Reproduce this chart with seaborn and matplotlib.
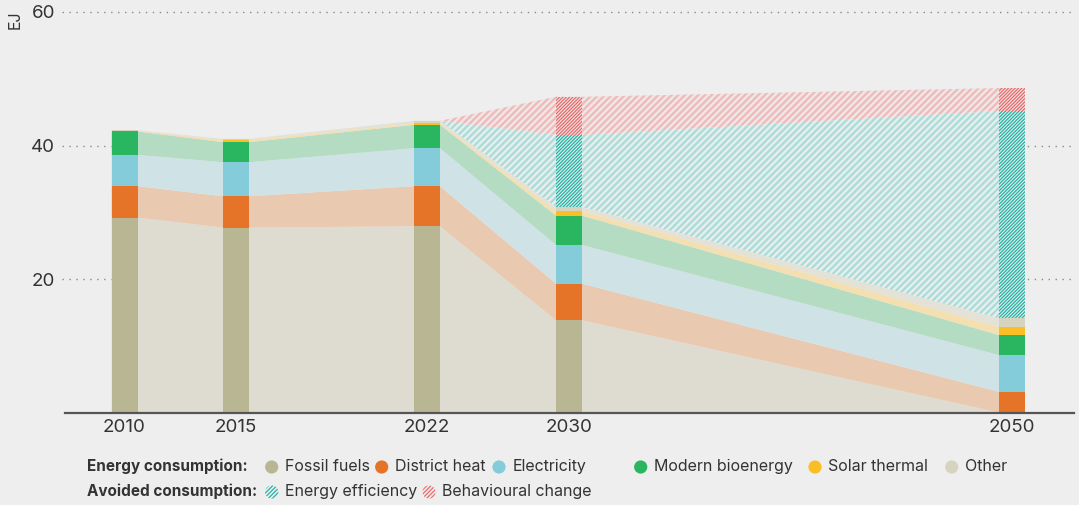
import numpy as np
import matplotlib
matplotlib.use("Agg")
import matplotlib.pyplot as plt
from matplotlib.patches import Circle
import seaborn as sns

# ---------------- data ----------------
years = ["2010", "2015", "2022", "2030", "2050"]
fossil_fuels = [29.2, 27.7, 27.9, 13.8, 0.0]
district_heat = [4.7, 4.7, 6.0, 5.5, 3.1]
electricity = [4.7, 5.1, 5.7, 5.8, 5.5]
modern_bioenergy = [3.5, 3.0, 3.5, 4.4, 3.0]
solar_thermal = [0.1, 0.3, 0.2, 0.7, 1.2]
other = [0.1, 0.2, 0.4, 0.6, 1.3]
energy_efficiency = [0.0, 0.0, 0.0, 10.8, 31.1]
behavioural_change = [0.0, 0.0, 0.0, 5.7, 3.4]
y_ticks = [20, 40, 60]

# ---------------- style ----------------
sns.set_theme(style="white")
plt.rcParams["font.family"] = ["Inter", "DejaVu Sans"]

BG = "#eeeeee"
TXT = "#333333"
series = [
    ("Fossil fuels", fossil_fuels, "#b9b693", "#dedcd0"),
    ("District heat", district_heat, "#e57428", "#e9c9b0"),
    ("Electricity", electricity, "#84ccd9", "#cfe3e7"),
    ("Modern bioenergy", modern_bioenergy, "#2ab560", "#b4dcc2"),
    ("Solar thermal", solar_thermal, "#fbbf26", "#f3dfb0"),
    ("Other", other, "#d6d3be", "#e4e2d7"),
]
avoided = [
    ("Energy efficiency", energy_efficiency, "#23b3a6", "#a9dcd8", "#e6eeed"),
    ("Behavioural change", behavioural_change, "#e86a6a", "#f0b9b9", "#efe6e6"),
]

# layout: bar centre positions in axis units (pixel-like), bar width
x_pos = np.array([124.5, 236.0, 427.0, 569.0, 1012.0])
bar_w = 26.0

W, H = 1079, 505
fig = plt.figure(figsize=(W / 100, H / 100), dpi=100, facecolor=BG)
ax_left, ax_right, ax_top, ax_bottom = 65, 1074, 12, 412.5
ax = fig.add_axes([ax_left / W, 1 - ax_bottom / H, (ax_right - ax_left) / W,
                   (ax_bottom - ax_top) / H])
ax.set_facecolor(BG)
ax.set_xlim(ax_left, ax_right)
ax.set_ylim(0, 60)

x_edges = np.ravel(np.column_stack([x_pos - bar_w / 2, x_pos + bar_w / 2]))

def rep(v):
    return np.repeat(np.asarray(v, dtype=float), 2)

bottom = np.zeros(len(years))
solid_layers, hatch_layers = [], []
for name, vals, col, pale in series:
    top = bottom + np.asarray(vals)
    solid_layers.append((bottom.copy(), top.copy(), col, pale))
    bottom = top
for name, vals, col, pale, tint in avoided:
    top = bottom + np.asarray(vals)
    hatch_layers.append((bottom.copy(), top.copy(), col, pale, tint))
    bottom = top

# gridlines
for t in y_ticks:
    ax.axhline(t, color="#8a8a8a", lw=1.0, ls=(0, (1, 4)), zorder=0,
               xmin=-0.003, xmax=1.0, clip_on=False)

# areas between bars
for b, t, col, pale in solid_layers:
    ax.fill_between(x_edges, rep(b), rep(t), facecolor=pale, edgecolor="none",
                    lw=0, zorder=1)
for b, t, col, pale, tint in hatch_layers:
    m = rep(t - b) > 0
    idx = np.where(m)[0]
    if len(idx):
        m[max(idx[0] - 1, 0):] = True
    with plt.rc_context({"hatch.linewidth": 1.6}):
        ax.fill_between(x_edges[m], rep(b)[m], rep(t)[m], facecolor=tint,
                        edgecolor=pale, lw=0, hatch="/////", zorder=1)

# bars
for b, t, col, pale in solid_layers:
    ax.bar(x_pos, t - b, bottom=b, width=bar_w, color=col, lw=0, zorder=3)
for b, t, col, pale, tint in hatch_layers:
    h = t - b
    sel = h > 0
    with plt.rc_context({"hatch.linewidth": 0.9}):
        ax.bar(x_pos[sel], h[sel], bottom=b[sel], width=bar_w, facecolor=tint,
               edgecolor=col, lw=0, hatch="/" * 10, zorder=3)

# axes styling
for s in ["top", "right", "left"]:
    ax.spines[s].set_visible(False)
ax.spines["bottom"].set_color("#555555")
ax.spines["bottom"].set_linewidth(1.6)
ax.spines["bottom"].set_zorder(5)
ax.set_xticks(x_pos)
ax.set_xticklabels(years)
ax.set_yticks(y_ticks)
ax.set_yticklabels([str(t) for t in y_ticks])
ax.tick_params(axis="both", length=0, labelsize=13.5, colors=TXT)
ax.tick_params(axis="x", pad=5)
ax.tick_params(axis="y", pad=7)
fig.text(15 / W, 1 - 20 / H, "EJ", rotation=90, ha="center", va="center",
         fontsize=11.5, color=TXT)

# legend
def px(x, y):
    return (x / 100, (H - y) / 100)

row1, row2 = 467, 492
base_off = 4.3
fs = 11.5
fig.text(87 / W, 1 - (row1 + base_off) / H, "Energy consumption:", fontweight="bold",
         fontsize=11, color=TXT, va="baseline", ha="left")
fig.text(87 / W, 1 - (row2 + base_off) / H, "Avoided consumption:", fontweight="bold",
         fontsize=11, color=TXT, va="baseline", ha="left")
leg1 = [271.7, 381.7, 499.0, 640.7, 815.0, 951.7]
for (name, vals, col, pale), cx in zip(series, leg1):
    fig.add_artist(Circle(px(cx, row1), 0.066, transform=fig.dpi_scale_trans,
                          facecolor=col, edgecolor="none"))
    fig.text((cx + 13.5) / W, 1 - (row1 + base_off) / H, name, fontsize=fs,
             color=TXT, va="baseline", ha="left")
leg2 = [271.7, 429.0]
for (name, vals, col, pale, tint), cx in zip(avoided, leg2):
    with plt.rc_context({"hatch.linewidth": 0.9}):
        fig.add_artist(Circle(px(cx, row2), 0.066, transform=fig.dpi_scale_trans,
                              facecolor=BG, edgecolor=col, lw=0, hatch="/" * 8))
    fig.text((cx + 13.5) / W, 1 - (row2 + base_off) / H, name, fontsize=fs,
             color=TXT, va="baseline", ha="left")

fig.savefig("out.png", dpi=100, facecolor=BG)
